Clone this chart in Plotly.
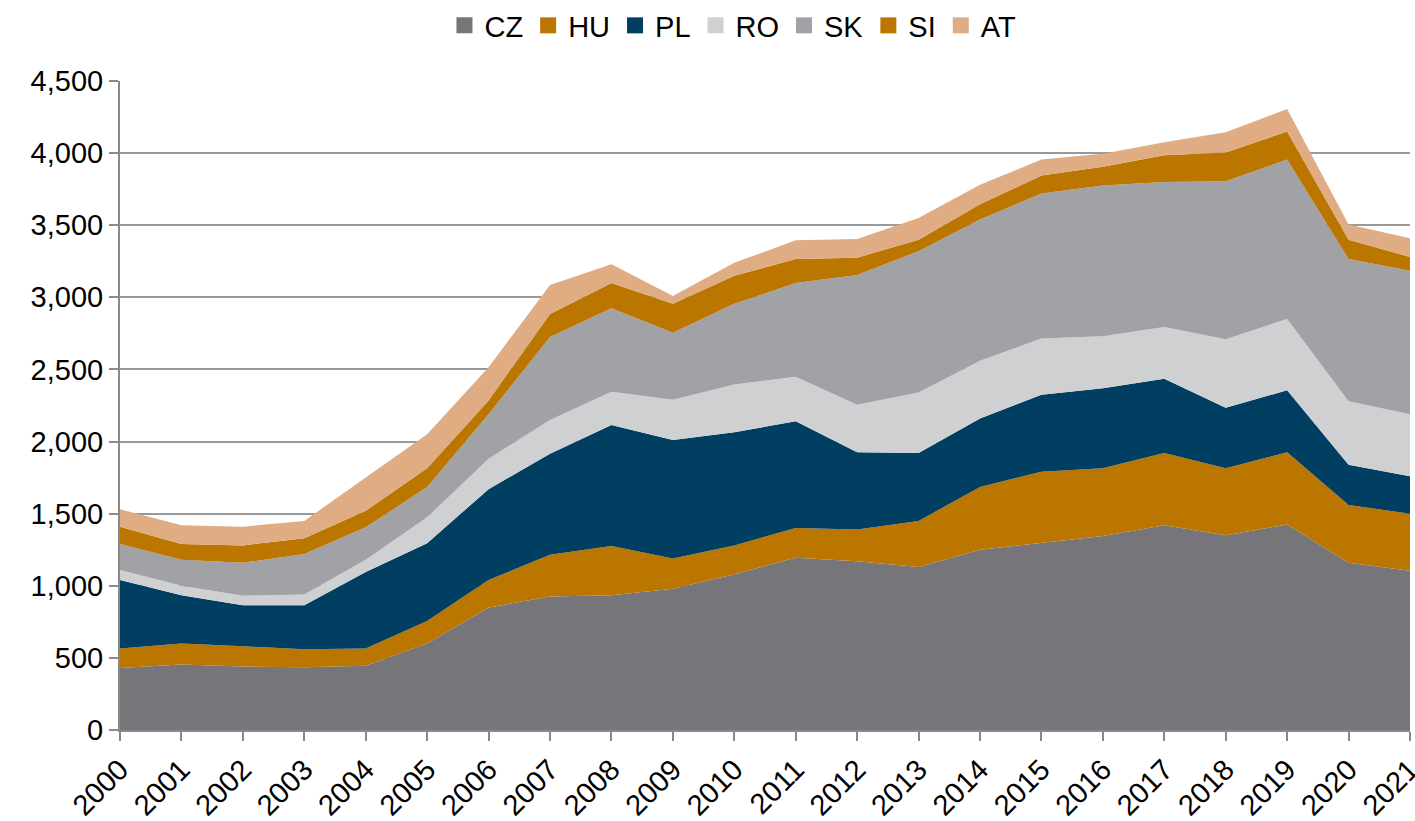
import plotly.graph_objects as go

years = list(range(2000, 2022))
year_labels = [str(y) for y in years]

cz = [430, 455, 440, 435, 445, 600, 850, 925, 935, 980, 1080, 1195, 1170, 1130, 1250, 1300, 1345, 1420, 1350, 1425, 1160, 1105]
hu = [135, 145, 140, 125, 120, 155, 190, 290, 340, 210, 200, 205, 220, 320, 435, 490, 470, 500, 465, 500, 400, 395]
pl = [475, 335, 285, 305, 530, 540, 630, 700, 840, 820, 785, 740, 535, 470, 475, 535, 555, 515, 420, 430, 280, 260]
ro = [70, 65, 65, 75, 85, 180, 210, 235, 230, 280, 330, 310, 330, 420, 400, 390, 360, 360, 475, 495, 440, 430]
sk = [180, 180, 230, 280, 225, 210, 310, 575, 580, 465, 560, 650, 900, 980, 980, 1005, 1045, 1005, 1095, 1105, 985, 995]
si = [120, 110, 120, 110, 115, 130, 95, 160, 175, 200, 195, 165, 120, 80, 105, 125, 130, 185, 200, 195, 135, 95]
at = [120, 130, 130, 120, 230, 235, 230, 200, 130, 55, 90, 130, 130, 150, 135, 110, 90, 90, 140, 155, 105, 130]

series = [
    ("CZ", cz, "#767579"),
    ("HU", hu, "#BB7600"),
    ("PL", pl, "#003F62"),
    ("RO", ro, "#CFD0D2"),
    ("SK", sk, "#A1A2A6"),
    ("SI", si, "#BB7600"),
    ("AT", at, "#DFAC84"),
]

fig = go.Figure()
for name, vals, color in series:
    fig.add_trace(go.Scatter(
        x=years, y=vals, name=name, mode="lines",
        stackgroup="one", line=dict(width=0, color=color),
        fillcolor=color, showlegend=False, hoverinfo="skip",
    ))
# legend entries with square symbols
for name, vals, color in series:
    fig.add_trace(go.Scatter(
        x=[None], y=[None], name=name, mode="markers",
        marker=dict(symbol="square", size=16, color=color),
        showlegend=True,
    ))

font = "Liberation Sans, Arial, sans-serif"
fig.update_layout(
    width=1415, height=821,
    margin=dict(l=120, r=5, t=81, b=91),
    paper_bgcolor="white", plot_bgcolor="white",
    font=dict(family=font, size=29, color="#000000"),
    legend=dict(orientation="h", xref="container", x=0.518, xanchor="center",
                yref="container", y=1.0, yanchor="top",
                traceorder="normal", font=dict(size=29),
                itemwidth=30, tracegroupgap=0),
    showlegend=True,
)
fig.update_xaxes(
    range=[2000, 2021], tickmode="array", tickvals=years, ticktext=year_labels,
    tickangle=-45, showgrid=False, showline=True, linecolor="#898989", linewidth=2,
    ticks="outside", ticklen=9, tickcolor="#898989", tickwidth=2,
    tickfont=dict(size=29), zeroline=False, automargin=False,
    ticklabeloverflow="allow",
)
fig.update_yaxes(
    range=[0, 4500], tickmode="array", tickvals=list(range(0, 4501, 500)),
    tickformat=",", showgrid=True, gridcolor="#999999", gridwidth=2,
    showline=True, linecolor="#898989", linewidth=2,
    ticks="outside", ticklen=9, tickcolor="#898989", tickwidth=2,
    tickfont=dict(size=29), zeroline=False, layer="below traces",
    automargin=False,
)
fig.write_html("out.html", config={"displayModeBar": False},
               post_script="document.body.style.margin='0';document.body.style.overflow='hidden';")
